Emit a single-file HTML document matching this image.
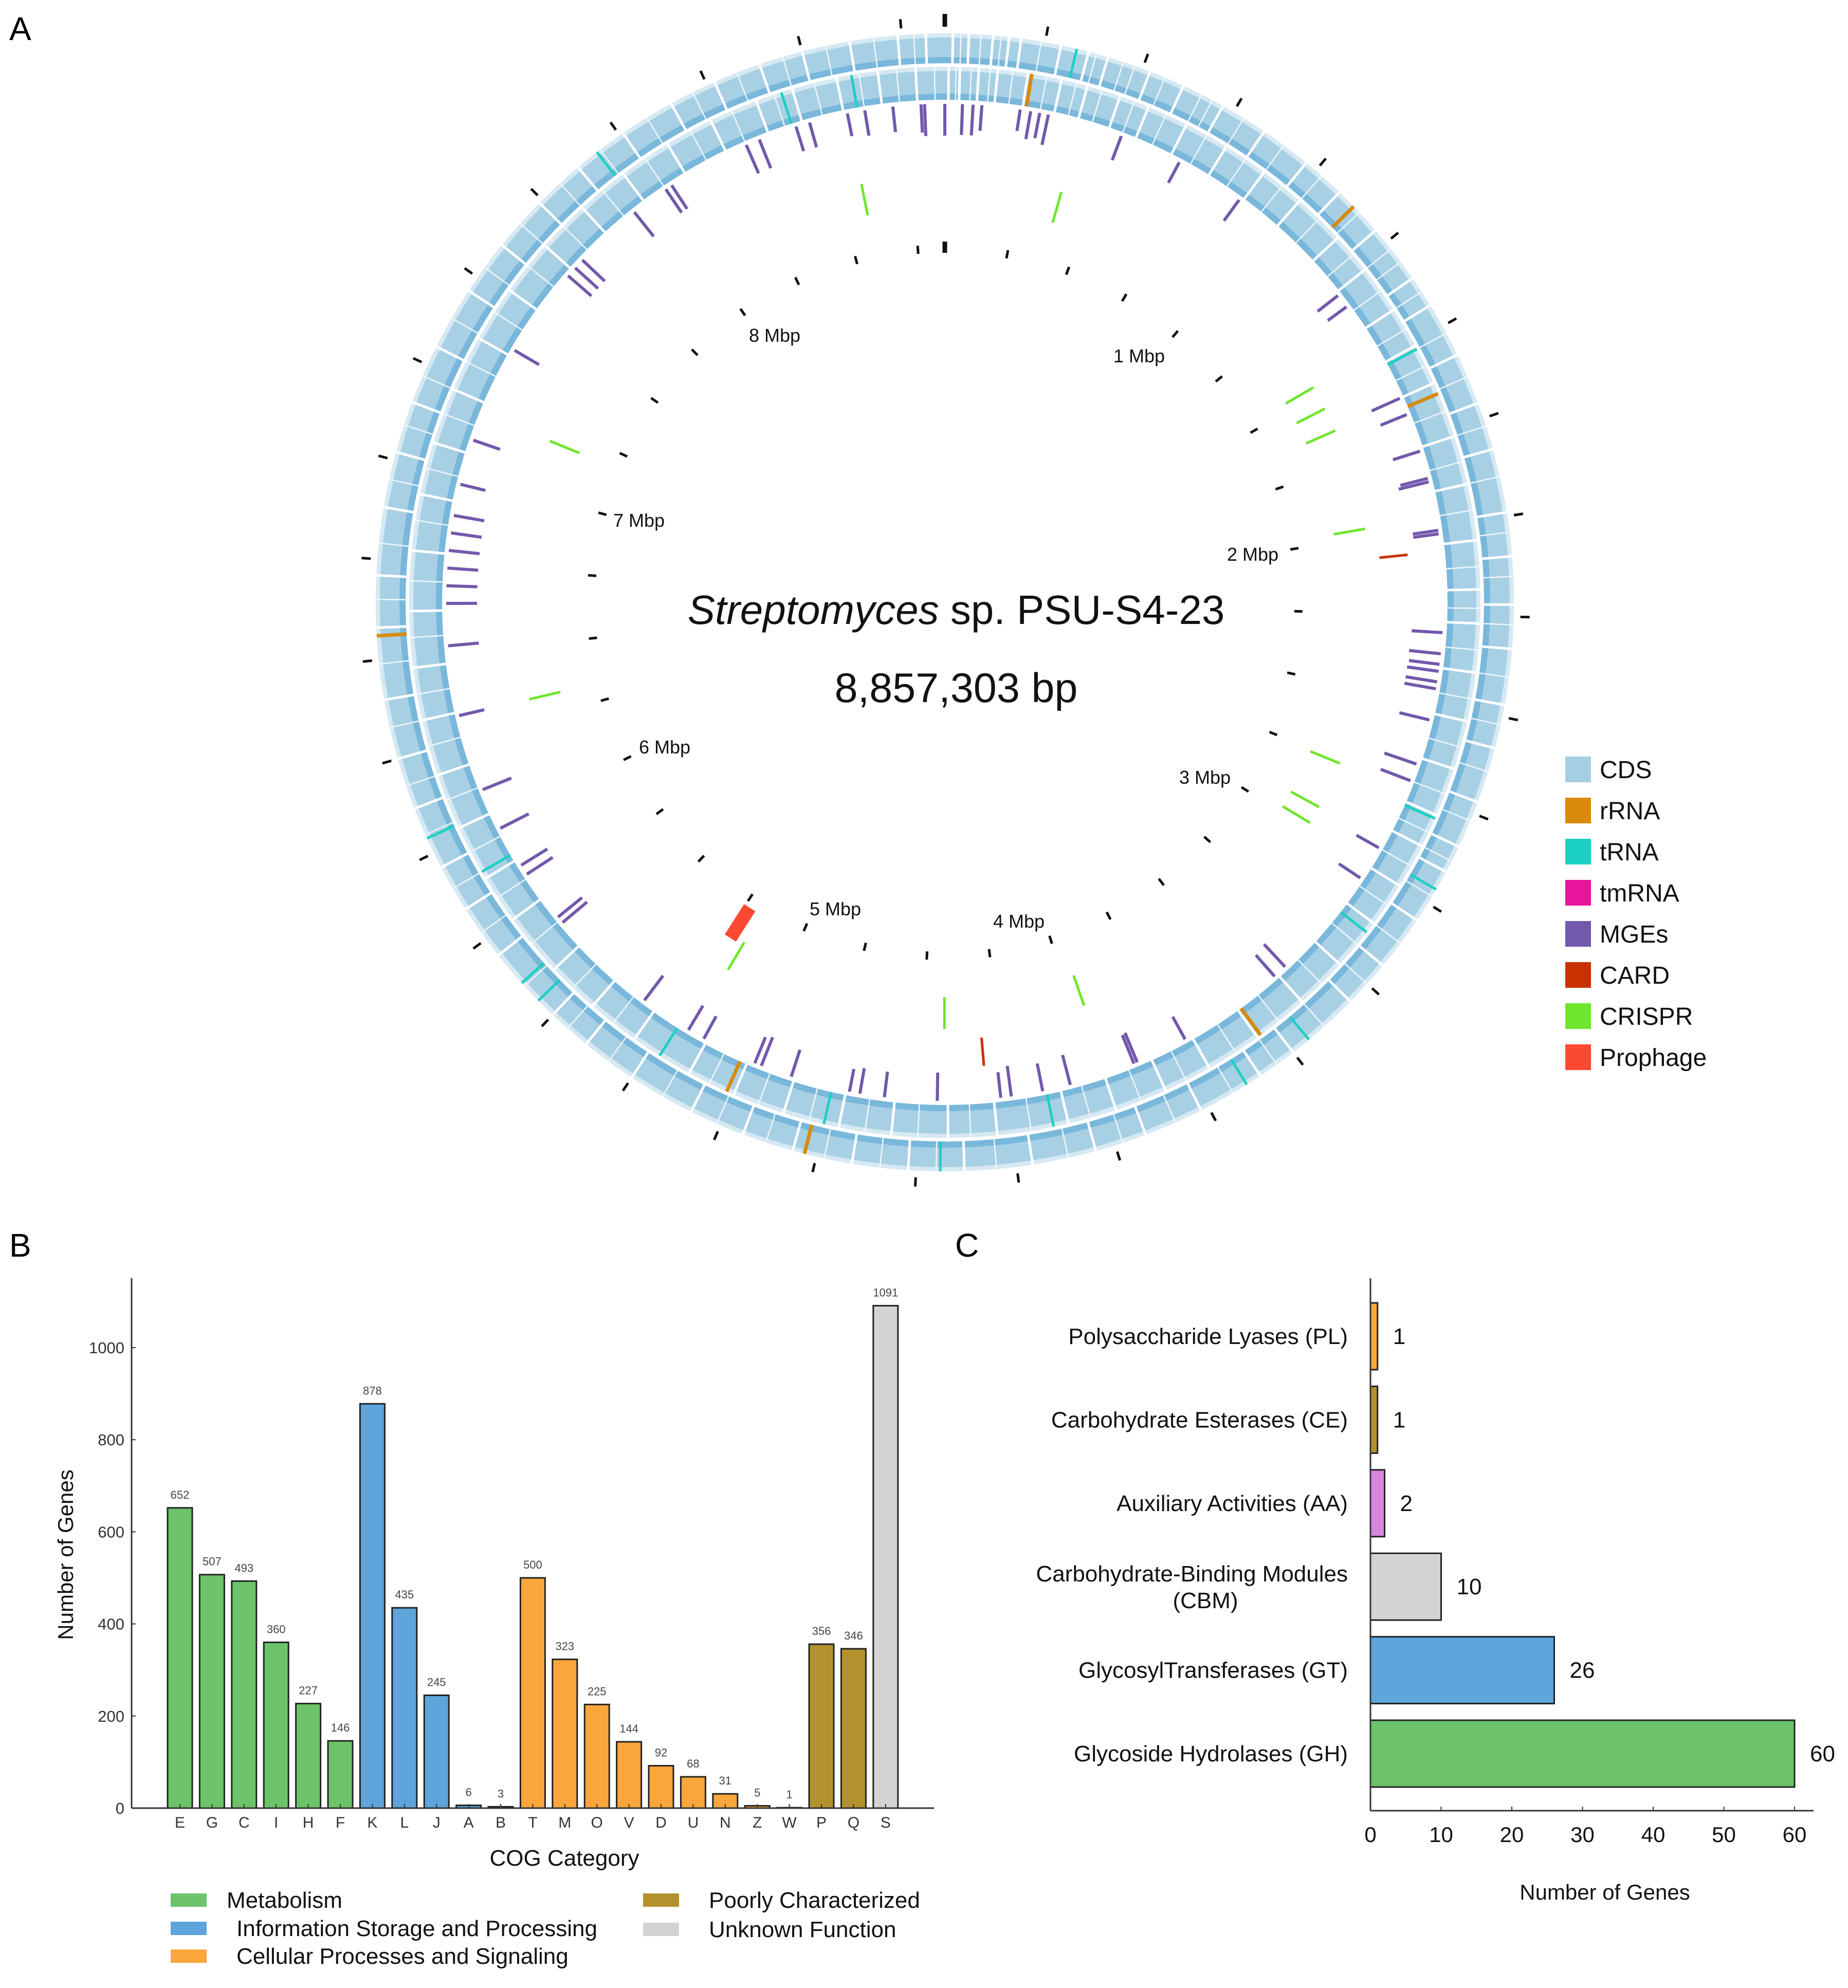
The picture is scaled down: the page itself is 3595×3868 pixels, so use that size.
<!DOCTYPE html>
<html><head><meta charset="utf-8">
<style>
body{margin:0;background:#fff;}
svg{display:block;font-family:"Liberation Sans",Arial,sans-serif;}
</style></head>
<body>
<svg id="fig" width="3595" height="3868" viewBox="0 0 3595 3868" xmlns="http://www.w3.org/2000/svg">
<rect width="3595" height="3868" fill="#fff"/>
<text x="18" y="78" font-size="64">A</text>
<text x="18" y="2445" font-size="64">B</text>
<text x="1858" y="2445" font-size="64">C</text>
<g id="genome"></g>
<g id="legendA"></g>
<g id="cog"></g>
<g id="cazy"></g>
</svg>
<script>
const NS="http://www.w3.org/2000/svg";
function mk(tag,attrs,parent,txt){const e=document.createElementNS(NS,tag);for(const k in attrs)e.setAttribute(k,attrs[k]);if(txt!==undefined)e.textContent=txt;parent.appendChild(e);return e;}

// ---------- Panel A data (positions in Mbp) ----------
const genomeSize=8.857303;
const mgePos=[8.28,8.32,8.43,8.47,8.58,8.63,8.71,8.79,8.80,0.0,0.05,0.08,0.105,0.214,0.244,0.27,0.295,0.51,0.69,0.89,1.28,1.32,1.62,1.67,1.78,1.86,1.87,2.01,2.02,2.30,2.36,2.39,2.41,2.44,2.46,2.55,2.68,2.73,2.94,3.04,3.37,3.41,3.72,3.87,3.88,4.07,4.15,4.24,4.27,4.45,4.60,4.67,4.70,4.87,4.96,4.98,5.14,5.19,5.34,5.66,5.68,5.83,5.86,5.98,6.10,6.32,6.52,6.64,6.69,6.74,6.79,6.84,6.89,6.98,7.11,7.39,7.65,7.68,7.71,7.91,8.02,8.04];
const mgeLen=[60,60,50,50,45,50,50,55,62,62,60,60,50,42,55,50,60,50,45,50,50,45,60,55,55,55,60,50,50,60,62,60,62,62,62,60,66,62,50,50,60,55,50,62,60,60,55,60,50,55,50,50,45,55,60,55,50,55,60,62,60,60,60,62,60,50,60,60,60,60,60,60,60,50,55,55,60,60,60,60,55,55];
const crisprPos=[8.58,0.39,1.47,1.55,1.63,1.97,2.76,2.92,2.98,3.96,4.43,5.18,6.32,7.19];
const cardPos=[2.07,4.31];
const prophagePos=[5.23];
const rrnaOuter=[1.13,6.56,4.78];
const rrnaInner=[0.23,1.65,3.54,5.02];
const trnaOuter=[0.33,2.96,3.45,3.64,4.44,5.55,5.61,6.04,7.93];
const trnaInner=[1.52,2.80,3.15,4.14,4.75,5.22,5.90,8.42,8.61];
const gapOuter=[0.02,0.06,0.12,0.16,0.19,0.29,0.36,0.41,0.52,0.61,0.72,0.84,0.97,1.08,1.21,1.36,1.44,1.58,1.71,1.83,1.99,2.10,2.22,2.33,2.47,2.58,2.72,2.84,2.91,3.05,3.19,3.31,3.50,3.60,3.77,3.92,4.05,4.21,4.38,4.52,4.66,4.81,4.94,5.08,5.25,5.39,5.50,5.70,5.84,5.96,6.12,6.25,6.40,6.58,6.71,6.88,7.02,7.15,7.30,7.46,7.60,7.74,7.87,8.01,8.15,8.27,8.39,8.50,8.62,8.74,8.81];
const gapInner=[0.01,0.04,0.09,0.14,0.22,0.31,0.38,0.47,0.55,0.66,0.78,0.90,1.02,1.16,1.27,1.40,1.51,1.62,1.77,1.90,2.05,2.18,2.27,2.40,2.53,2.66,2.79,2.88,3.00,3.12,3.26,3.40,3.55,3.70,3.83,3.97,4.10,4.29,4.42,4.57,4.71,4.86,5.00,5.13,5.30,5.44,5.58,5.75,5.88,6.03,6.18,6.33,6.47,6.62,6.78,6.93,7.07,7.22,7.37,7.52,7.67,7.81,7.95,8.09,8.22,8.35,8.45,8.57,8.68,8.78];
const thinGapOuter=[0.04,0.09,0.14,0.24,0.33,0.38,0.45,0.48,0.56,0.66,0.69,0.78,0.90,1.02,1.15,1.27,1.31,1.40,1.52,1.64,1.77,1.90,2.04,2.15,2.27,2.40,2.52,2.64,2.77,2.88,2.98,3.12,3.25,3.40,3.55,3.68,3.84,3.98,4.12,4.30,4.45,4.59,4.73,4.88,5.01,5.16,5.32,5.45,5.60,5.77,5.90,6.05,6.18,6.33,6.49,6.65,6.79,6.95,7.09,7.22,7.38,7.53,7.67,7.81,7.94,8.08,8.21,8.33,8.45,8.56,8.68,8.78];
const thinGapInner=[0.03,0.07,0.12,0.18,0.27,0.35,0.42,0.51,0.60,0.72,0.84,0.96,1.09,1.22,1.34,1.46,1.57,1.70,1.84,1.97,2.12,2.23,2.34,2.47,2.60,2.73,2.84,2.94,3.06,3.19,3.33,3.48,3.62,3.77,3.90,4.04,4.20,4.36,4.50,4.64,4.79,4.93,5.07,5.22,5.37,5.51,5.67,5.82,5.96,6.11,6.26,6.40,6.55,6.70,6.86,7.00,7.15,7.30,7.45,7.60,7.74,7.88,8.02,8.16,8.28,8.40,8.51,8.63,8.73,8.83];
const mbpLabels=["1 Mbp","2 Mbp","3 Mbp","4 Mbp","5 Mbp","6 Mbp","7 Mbp","8 Mbp"];
const mbpLabelPos=[[2216,692],[2437,1078],[2344,1512],[1982,1792],[1625,1768],[1293,1453],[1243,1012],[1507,652]];
const legendNames=["CDS","rRNA","tRNA","tmRNA","MGEs","CARD","CRISPR","Prophage"];
const legendColors=["#a6cee3","#d98a0b","#1bd0c2","#e8149b","#7259ab","#c93200","#6fe62b","#fb4a31"];

const CX=1838,CY=1172;
function ang(p){return p/genomeSize*2*Math.PI;}
function pt(p,r){const a=ang(p);return [CX+r*Math.sin(a),CY-r*Math.cos(a)];}
function radial(g,p,r1,r2,col,w,name){const a=pt(p,r1),b=pt(p,r2);const l=mk('line',{x1:a[0],y1:a[1],x2:b[0],y2:b[1],stroke:col,'stroke-width':w},g);

return l;}

const G=document.getElementById('genome');
// rings
[[1078,58],[1010,64]].forEach((rw,i)=>{
  const c=mk('circle',{cx:CX,cy:CY,r:rw[0],fill:'none',stroke:'#a8d0e5','stroke-width':rw[1]},G);
  
  
  mk('circle',{cx:CX,cy:CY,r:rw[0]-rw[1]/2+6,fill:'none',stroke:'#6aafd7','stroke-width':12,opacity:0.75},G);
  mk('circle',{cx:CX,cy:CY,r:rw[0]+rw[1]/2-4,fill:'none',stroke:'#d6e9f3','stroke-width':8},G);
});
thinGapOuter.forEach(p=>radial(G,p,1049,1107,'#eef6fb',2.5,'cds-gap'));
thinGapInner.forEach(p=>radial(G,p,978,1042,'#eef6fb',2.5,'cds-gap'));
gapOuter.forEach(p=>radial(G,p,1047,1109,'#fff',5,'cds-gap'));
gapInner.forEach(p=>radial(G,p,976,1044,'#fff',5,'cds-gap'));
rrnaOuter.forEach(p=>radial(G,p,1049,1107,legendColors[1],7,'rrna-mark'));
rrnaInner.forEach(p=>radial(G,p,978,1042,legendColors[1],7,'rrna-mark'));
trnaOuter.forEach(p=>radial(G,p,1049,1107,legendColors[2],5,'trna-mark'));
trnaInner.forEach(p=>radial(G,p,978,1042,legendColors[2],5,'trna-mark'));
mgePos.forEach((p,i)=>radial(G,p,970-mgeLen[i],970,legendColors[4],6,'mge-mark'));
crisprPos.forEach(p=>radial(G,p,768,830,legendColors[6],5,'crispr-mark'));
cardPos.forEach(p=>radial(G,p,850,905,legendColors[5],5,'card-mark'));
prophagePos.forEach(p=>radial(G,p,705,775,legendColors[7],26,'prophage-mark'));
// ticks every 0.25 Mbp
for(let p=0;p<genomeSize;p+=0.25){
  const big=p===0;
  radial(G,p,1120,big?1145:1138,'#111',big?9:5,'outer-tick');
  radial(G,p,680,big?702:696,'#111',big?9:5,'inner-tick');
}
mbpLabels.forEach((t,i)=>{
  const e=mk('text',{x:mbpLabelPos[i][0],y:mbpLabelPos[i][1]+13,'font-size':36,'text-anchor':'middle',fill:'#111'},G,t);
  
  
});
const t1=mk('text',{x:1860,y:1214,'font-size':80,'text-anchor':'middle',fill:'#111'},G);


mk('tspan',{'font-style':'italic'},t1,'Streptomyces');
mk('tspan',{},t1,' sp. PSU-S4-23');
const t2=mk('text',{x:1860,y:1366,'font-size':81,'text-anchor':'middle',fill:'#111'},G,'8,857,303 bp');



const LA=document.getElementById('legendA');
legendNames.forEach((n,i)=>{
  const y=1472+i*80;
  const r=mk('rect',{x:3045,y:y,width:50,height:50,fill:legendColors[i]},LA);
  
  
  const t=mk('text',{x:3112,y:y+42,'font-size':48,fill:'#111'},LA,n);
  
  
});

// ---------- Panel B ----------
const cogCats=["E","G","C","I","H","F","K","L","J","A","B","T","M","O","V","D","U","N","Z","W","P","Q","S"];
const cogVals=[652,507,493,360,227,146,878,435,245,6,3,500,323,225,144,92,68,31,5,1,356,346,1091];
const cogGroup=[0,0,0,0,0,0,1,1,1,1,1,2,2,2,2,2,2,2,2,2,3,3,4];
const groupColors=["#6cc36a","#5da5da","#fba63c","#b3922e","#d3d3d3"];
const groupNames=["Metabolism","Information Storage and Processing","Cellular Processes and Signaling","Poorly Characterized","Unknown Function"];
const cogTicks=[0,200,400,600,800,1000];
const B=document.getElementById('cog');
const bX0=256,bBase=3518,bTop=2487;
function by(v){return bBase-v*0.896;}
function bx(i){return 350+i*62.4;}
cogCats.forEach((c,i)=>{
  const v=cogVals[i];
  const r=mk('rect',{x:bx(i)-24,y:by(v),width:48,height:bBase-by(v),fill:groupColors[cogGroup[i]],stroke:'#222','stroke-width':3},B);
  
  
  const lv=mk('text',{x:bx(i),y:by(v)-18,'font-size':22,'text-anchor':'middle',fill:'#444'},B,String(v));
  
  
  const lc=mk('text',{x:bx(i),y:3556,'font-size':30,'text-anchor':'middle',fill:'#333'},B,c);
  
  
  mk('line',{x1:bx(i),y1:bBase,x2:bx(i),y2:bBase-8,stroke:'#333','stroke-width':2},B);
});
mk('line',{x1:bX0,y1:bTop,x2:bX0,y2:bBase,stroke:'#333','stroke-width':3},B);
mk('line',{x1:bX0,y1:bBase,x2:1817,y2:bBase,stroke:'#333','stroke-width':3},B);
cogTicks.forEach(v=>{
  mk('line',{x1:bX0,y1:by(v),x2:bX0+8,y2:by(v),stroke:'#333','stroke-width':2},B);
  const t=mk('text',{x:bX0-14,y:by(v)+11,'font-size':31,'text-anchor':'end',fill:'#333'},B,String(v));
  
  
});
const yt=mk('text',{x:0,y:0,'font-size':42,'text-anchor':'middle',fill:'#111',transform:'translate(142,3025) rotate(-90)'},B,'Number of Genes');


const xt=mk('text',{x:1098,y:3630,'font-size':44,'text-anchor':'middle',fill:'#111'},B,'COG Category');


const legPos=[[332,441,3697],[332,460,3752],[332,460,3806],[1251,1379,3697],[1251,1379,3754]];
groupNames.forEach((n,i)=>{
  const p=legPos[i];
  const r=mk('rect',{x:p[0],y:p[2]-13,width:70,height:26,fill:groupColors[i]},B);
  
  
  const t=mk('text',{x:p[1],y:p[2]+15,'font-size':44,fill:'#111'},B,n);
  
  
});

// ---------- Panel C ----------
const cazyNames=["Polysaccharide Lyases (PL)","Carbohydrate Esterases (CE)","Auxiliary Activities (AA)","Carbohydrate-Binding Modules|(CBM)","GlycosylTransferases (GT)","Glycoside Hydrolases (GH)"];
const cazyVals=[1,1,2,10,26,60];
const cazyColors=["#fba63c","#b3922e","#d786e0","#d3d3d3","#5da5da","#6cc36a"];
const cazyTicks=[0,10,20,30,40,50,60];
const C=document.getElementById('cazy');
const cX0=2666,cBase=3523;
function cx(v){return cX0+v*13.75;}
function cy(i){return 2600+i*162.4;}
cazyNames.forEach((n,i)=>{
  const v=cazyVals[i];
  const r=mk('rect',{x:cX0,y:cy(i)-65,width:cx(v)-cX0,height:130,fill:cazyColors[i],stroke:'#222','stroke-width':3},C);
  
  
  const vt=mk('text',{x:cx(v)+30,y:cy(i)+15,'font-size':44,fill:'#111'},C,String(v));
  
  
  const parts=n.split('|');
  parts.forEach((s,k)=>{
    const yy=parts.length==1?cy(i)+15:cy(i)-10+k*52;
    const xx=parts.length==1?2622:(k==0?2622:2345);
    const t=mk('text',{x:xx,y:yy,'font-size':44,'text-anchor':parts.length==1||k==0?'end':'middle',fill:'#111'},C,s);
    
    
  });
});
mk('line',{x1:cX0,y1:2487,x2:cX0,y2:cBase,stroke:'#333','stroke-width':3},C);
mk('line',{x1:cX0,y1:cBase,x2:3528,y2:cBase,stroke:'#333','stroke-width':3},C);
cazyTicks.forEach(v=>{
  mk('line',{x1:cx(v),y1:cBase,x2:cx(v),y2:cBase-8,stroke:'#333','stroke-width':2},C);
  const t=mk('text',{x:cx(v),y:3584,'font-size':42,'text-anchor':'middle',fill:'#111'},C,String(v));
  
  
});
const ct=mk('text',{x:3122,y:3696,'font-size':42,'text-anchor':'middle',fill:'#111'},C,'Number of Genes');


</script>
</body></html>
